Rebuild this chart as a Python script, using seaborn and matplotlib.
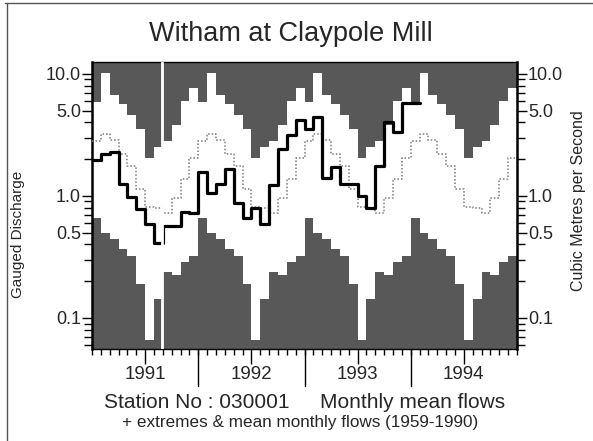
import numpy as np
import pandas as pd
import matplotlib
matplotlib.use("Agg")
import matplotlib.pyplot as plt
import seaborn as sns
from matplotlib.ticker import FixedLocator, NullFormatter, LogLocator, FixedFormatter
from matplotlib.lines import Line2D

# ---------------- data ----------------
years = [1991, 1992, 1993, 1994]
month_names = ["Jan", "Feb", "Mar", "Apr", "May", "Jun",
               "Jul", "Aug", "Sep", "Oct", "Nov", "Dec"]

# 1959-1990 extremes and mean of monthly mean flows (m3/s), Jan..Dec
max_flow = [5.9, 10.2, 6.7, 5.7, 4.6, 3.5, 2.05, 2.5, 2.8, 3.8, 6.0, 7.7]
min_flow = [0.66, 0.50, 0.44, 0.37, 0.32, 0.19, 0.066, 0.143, 0.24, 0.225, 0.29, 0.32]
mean_flow = [2.82, 3.22, 2.88, 2.21, 1.76, 1.14, 0.81, 0.80, 0.73, 0.96, 1.38, 2.05]

# Monthly mean flows Jan 1991 .. Jan 1994
observed_flow = [
    1.97, 2.21, 2.29, 1.25, 0.98, 0.78, 0.59, 0.41, 0.57, 0.57, 0.74, 0.73,   # 1991
    1.57, 1.06, 1.25, 1.66, 0.88, 0.66, 0.80, 0.59, 1.23, 2.43, 3.16, 4.19,   # 1992
    3.54, 4.44, 1.40, 1.73, 1.25, 1.25, 1.00, 0.80, 1.76, 4.04, 3.35, 5.77,   # 1993
    5.77,                                                                     # 1994
]

ytick_values = [0.1, 0.5, 1.0, 5.0, 10.0]
ytick_labels = ["0.1", "0.5", "1.0", "5.0", "10.0"]

title = "Witham at Claypole Mill"
left_label = "Gauged Discharge"
right_label = "Cubic Metres per Second"
line1a = "Station No : 030001"
line1b = "Monthly mean flows"
line2 = "+ extremes & mean monthly flows (1959-1990)"

# ---------------- build tables ----------------
n_years = len(years)
edges = years[0] + np.arange(n_years * 12 + 1) / 12.0
env = pd.DataFrame({
    "t": edges,
    "max": list(np.tile(max_flow, n_years)) + [max_flow[-1]],
    "min": list(np.tile(min_flow, n_years)) + [min_flow[-1]],
    "mean": list(np.tile(mean_flow, n_years)) + [mean_flow[-1]],
})
n_obs = len(observed_flow)
obs = pd.DataFrame({
    "t": edges[: n_obs + 1],
    "flow": observed_flow + [observed_flow[-1]],
})

# ---------------- style ----------------
sns.set_theme(style="white")
plt.rcParams["font.family"] = ["Liberation Sans", "DejaVu Sans"]

W, H = 593, 441
fig = plt.figure(figsize=(W / 100, H / 100), dpi=100)
L, R, T, B = 92, 517, 62, 349
ax = fig.add_axes([L / W, (H - B) / H, (R - L) / W, (B - T) / H])

ylo, yhi = 0.0557, 12.5
dark = "#585858"

ax.fill_between(env["t"], env["max"], 1000, step="post", color=dark, lw=0, zorder=1)
ax.fill_between(env["t"], 1e-4, env["min"], step="post", color=dark, lw=0, zorder=1)

sns.lineplot(data=env, x="t", y="mean", ax=ax, drawstyle="steps-post",
             color="#7a7a7a", lw=1.1, linestyle=(0, (1, 1.3)), estimator=None,
             zorder=3)
sns.lineplot(data=obs, x="t", y="flow", ax=ax, drawstyle="steps-post",
             color="black", lw=2.3, estimator=None, zorder=4)

# scan artefact (white vertical stripe)
ax.axvline(1991.66, color="white", lw=2.0, zorder=6)

ax.set_yscale("log")
ax.set_ylim(ylo, yhi)
ax.set_xlim(edges[0], edges[-1])
ax.set_xlabel("")
ax.set_ylabel("")

ax.yaxis.set_major_locator(FixedLocator(ytick_values))
ax.yaxis.set_major_formatter(FixedFormatter(ytick_labels))
ax.yaxis.set_minor_locator(LogLocator(base=10, subs=np.arange(2, 10)))
ax.yaxis.set_minor_formatter(NullFormatter())
ax.tick_params(axis="y", which="both", left=True, right=True,
               labelleft=True, labelright=True, direction="out",
               color="black", width=1.0)
ax.tick_params(axis="y", which="major", length=7, labelsize=13, pad=1)
ax.tick_params(axis="y", which="minor", length=6)

mid_years = [y + 0.5 for y in years]
ax.xaxis.set_major_locator(FixedLocator(mid_years))
ax.xaxis.set_major_formatter(FixedFormatter([str(y) for y in years]))
ax.xaxis.set_minor_locator(FixedLocator(edges))
ax.tick_params(axis="x", which="both", bottom=True, top=False,
               direction="out", color="black", width=1.0)
ax.tick_params(axis="x", which="major", length=11, labelsize=13.5, pad=1)
ax.tick_params(axis="x", which="minor", length=4.5)

for y in years[1:]:
    ax.add_line(Line2D([y, y], [0, -0.13], transform=ax.get_xaxis_transform(),
                       color="black", lw=1.0, clip_on=False))

for side, lw in [("left", 1.8), ("right", 1.8), ("top", 1.0), ("bottom", 1.0)]:
    ax.spines[side].set_visible(True)
    ax.spines[side].set_color("black")
    ax.spines[side].set_linewidth(lw)

# ---------------- text ----------------
fig.text(291 / W, 1 - 34 / H, title, ha="center", va="center", fontsize=19.5)
fig.text(18 / W, 1 - 234 / H, left_label, rotation=90, ha="center", va="center", fontsize=11)
fig.text(578 / W, 1 - 201 / H, right_label, rotation=90, ha="center", va="center", fontsize=11.5)
fig.text(104 / W, 1 - 402 / H, line1a, ha="left", va="center", fontsize=15)
fig.text(320 / W, 1 - 402 / H, line1b, ha="left", va="center", fontsize=15)
fig.text(122 / W, 1 - 423 / H, line2, ha="left", va="center", fontsize=12.3)

# page frame
fig.add_artist(Line2D([5 / W, 1], [1 - 3 / H, 1 - 3 / H], transform=fig.transFigure,
                      color="#555555", lw=1.0))
fig.add_artist(Line2D([7 / W, 7 / W], [0, 1 - 3 / H], transform=fig.transFigure,
                      color="#555555", lw=1.0))

fig.savefig("out.png", dpi=100)
